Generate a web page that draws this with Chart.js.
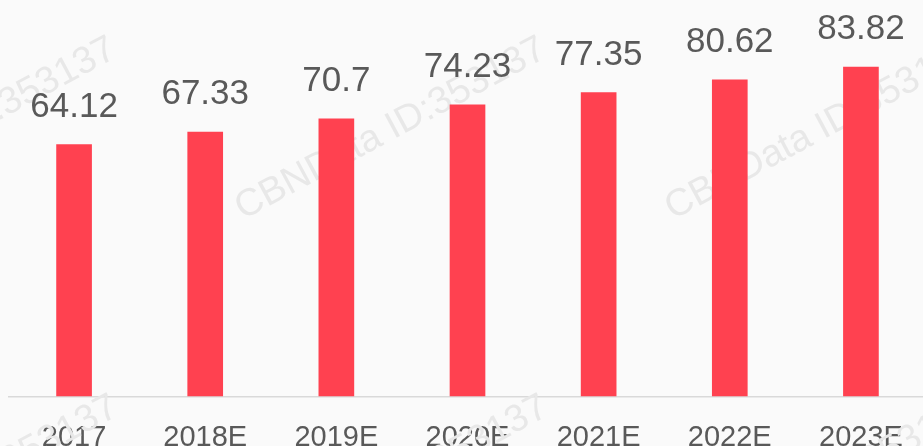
<!DOCTYPE html>
<html>
<head>
<meta charset="utf-8">
<script src="https://cdn.jsdelivr.net/npm/chart.js@4/dist/chart.umd.min.js"></script>
<style>
  html, body { margin: 0; padding: 0; background: #FAFAFA; overflow: hidden; }
  #wrap { position: relative; width: 930px; height: 446px; }
  canvas { display: block; }
</style>
</head>
<body>
<div id="wrap"><canvas id="c" width="930" height="446"></canvas></div>
<script>
const categories = ['2017', '2018E', '2019E', '2020E', '2021E', '2022E', '2023E'];
const values = [64.12, 67.33, 70.7, 74.23, 77.35, 80.62, 83.82];
const valueLabels = ['64.12', '67.33', '70.7', '74.23', '77.35', '80.62', '83.82'];
const watermarkText = 'CBNData ID:353137';

const FONT = '"Liberation Sans", Arial, sans-serif';

const watermarkPlugin = {
  id: 'watermark',
  beforeDatasetsDraw(chart) {
    const ctx = chart.ctx;
    ctx.save();
    ctx.font = '38px ' + FONT;
    ctx.fillStyle = '#E8E8E8';
    ctx.textBaseline = 'alphabetic';
    const starts = [[-187, 220], [243, 220], [673, 220], [-185, 578], [245, 578], [675, 578]];
    for (const [sx, sy] of starts) {
      ctx.save();
      ctx.translate(sx, sy);
      ctx.rotate(-28.2 * Math.PI / 180);
      ctx.fillText(watermarkText, 0, 0);
      ctx.restore();
    }
    ctx.restore();
  }
};

const valueLabelPlugin = {
  id: 'valueLabels',
  afterDatasetsDraw(chart) {
    const ctx = chart.ctx;
    const meta = chart.getDatasetMeta(0);
    ctx.save();
    ctx.font = '35px ' + FONT;
    ctx.fillStyle = '#595959';
    ctx.textAlign = 'center';
    ctx.textBaseline = 'alphabetic';
    meta.data.forEach((bar, i) => {
      ctx.fillText(valueLabels[i], bar.x, bar.y - 27.4);
    });
    ctx.restore();
  }
};

new Chart(document.getElementById('c'), {
  type: 'bar',
  data: {
    labels: categories,
    datasets: [{
      data: values,
      backgroundColor: '#FF4150',
      borderWidth: 0,
      barPercentage: 0.272,
      categoryPercentage: 1.0
    }]
  },
  options: {
    responsive: false,
    animation: false,
    devicePixelRatio: 1,
    layout: { padding: { left: 8.5, right: 3.5, top: 3.2, bottom: 0 } },
    plugins: { legend: { display: false }, tooltip: { enabled: false } },
    scales: {
      x: {
        grid: { display: false, drawTicks: false },
        border: { display: true, color: '#D9D9D9', width: 1.5 },
        ticks: { color: '#595959', font: { family: FONT, size: 29 }, padding: 24, maxRotation: 0, autoSkip: false },
        afterFit(scale) { scale.height = 49.5; }
      },
      y: {
        display: false,
        min: 0,
        max: 100
      }
    }
  },
  plugins: [watermarkPlugin, valueLabelPlugin]
});
</script>
</body>
</html>
